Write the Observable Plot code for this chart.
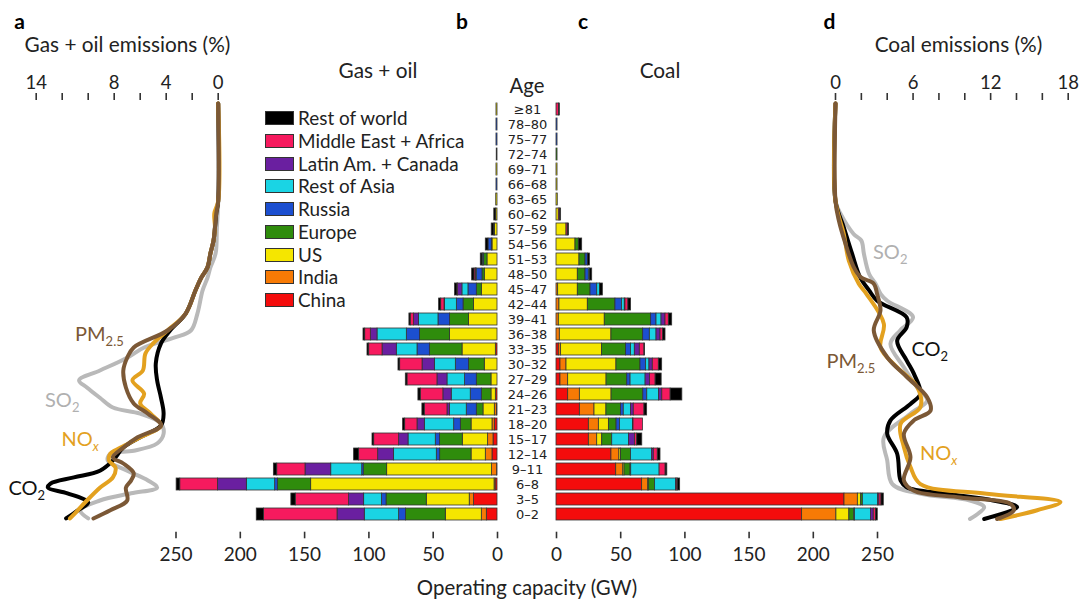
<!DOCTYPE html>
<html><head><meta charset="utf-8">
<script src="https://cdn.jsdelivr.net/npm/d3@7"></script>
<script src="https://cdn.jsdelivr.net/npm/@observablehq/plot@0.6"></script>
<style>
body{margin:0;background:#fff;font-family:Lato,sans-serif;color:#222}
#wrap{position:relative;width:1083px;height:603px;overflow:hidden;background:#fff}
#wrap svg{position:absolute;left:0;top:0}
.t{position:absolute;white-space:nowrap;line-height:1;font-size:18px}
.t sub{font-size:13px;vertical-align:-5px;line-height:0}
.sw{position:absolute;width:27px;height:12px;border:1px solid #333;box-sizing:content-box}
</style></head><body><div id="wrap"></div>
<script>
// ---------- categories ----------
const ageLabels = ["≥81","78–80","75–77","72–74","69–71","66–68","63–65","60–62","57–59","54–56","51–53","48–50","45–47","42–44","39–41","36–38","33–35","30–32","27–29","24–26","21–23","18–20","15–17","12–14","9–11","6–8","3–5","0–2"];
const regions = ["China","India","US","Europe","Russia","Rest of Asia","Latin Am. + Canada","Middle East + Africa","Rest of world"];
const regionColors = ["#f40c0c","#f77a05","#f5e600","#2f8c0c","#1c4fd0","#1ad4e4","#6a1fa0","#f61a5e","#000000"];

// ---------- gas + oil capacity (GW), rows top (≥81) to bottom (0–2) ----------
const gasChina   = [0,0,0,0,0,0,0,0,0,0,0,0,0,0,0,0,1.3,0,0,1.3,0.5,2.1,3.1,3.9,0.3,1.5,18.2,8.3];
const gasIndia   = [0,0,0,0,0,0,0,0,0,0,0,0,0,0,0,0,0,0,0,0,1.6,1.8,4.2,5.2,3.9,0.8,3.4,3.9];
const gasUS      = [0.8,0,0,0,0.8,0,1.0,1.0,2.0,3.9,7.8,9.9,12.2,18.2,22.1,36.9,25.9,9.9,4.7,3.4,8.8,16.3,19.7,11.1,81.6,142.6,33.4,28.0];
const gasEurope  = [0,0,0,0.6,0,0,0,0,0.5,0.5,2.6,1.8,3.9,8.2,14.8,23.3,25.4,12.2,11.4,7.5,5.2,8.3,17.7,24.4,18.2,25.9,31.3,30.9];
const gasRussia  = [0,0.8,0.8,0,0,0.8,0,0,0,2.6,0.8,4.4,6.5,5.2,9.0,10.3,9.6,10.3,9.1,8.6,7.8,5.2,3.3,2.6,1.2,2.1,3.6,5.4];
const gasRestAsia= [0,0,0,0,0,0,0,0,0,0,0.5,0.5,4.7,9.3,15.1,22.8,16.1,16.3,13.7,14.8,13.0,22.8,21.2,33.2,24.1,22.0,13.8,26.7];
const gasLatin   = [0,0,0,0,0,0,0,0,0,0,0,0.3,3.4,0.3,3.9,5.2,11.1,9.6,7.8,6.5,2.0,5.7,7.3,12.4,20.0,22.5,11.7,21.2];
const gasMEA     = [0,0,0,0,0,0,0,0,0,0,0,1.0,0.5,2.6,2.6,4.4,10.4,17.4,23.3,17.6,17.7,9.6,19.4,14.8,22.0,29.3,41.5,57.1];
const gasRoW     = [0,0,0,0,0,0,0,1.5,2.0,2.1,1.3,1.8,1.8,1.6,1.0,1.3,1.3,1.3,1.3,1.8,1.8,1.6,1.3,3.9,2.6,2.8,3.4,5.7];

// ---------- coal capacity (GW) ----------
const coalChina   = [0,0,0,0,0,0,0,0,0,0,0,0,0,0,0,0,1.8,3.1,3.1,9.1,18.2,25.2,25.2,42.8,46.5,66.7,224.3,191.3];
const coalIndia   = [0,0,0,0,0,0,0,0,0,0,0,0,1.3,2.3,1.8,2.6,1.8,4.7,6.0,9.1,11.4,7.8,6.5,6.2,5.5,4.7,10.4,26.7];
const coalUS      = [0,0,0,0,0.8,0.8,1.0,1.8,7.8,14.8,17.9,16.6,15.3,22.1,35.8,40.2,31.9,38.9,29.9,24.7,9.3,7.8,3.9,1.3,1.0,0.5,2.6,10.1];
const coalEurope  = [0,0,0,0.8,0,0,0,0,0,2.6,4.7,6.0,9.9,21.5,36.1,24.7,18.7,18.7,16.1,24.7,11.4,6.0,7.8,7.8,4.7,4.9,1.3,3.9];
const coalRussia  = [0,0.8,0.8,0,0,0,0,0,0,0,1.8,2.6,5.2,5.2,4.2,5.2,3.9,4.4,2.6,3.1,2.1,2.6,0,0,0.5,0,0,0.5];
const coalRestAsia= [0,0,0,0,0,0,0,0,0,0,0,0.8,2.1,2.1,3.9,5.2,2.9,2.6,11.7,9.1,5.7,10.1,13.0,16.4,22.1,16.4,11.9,12.5];
const coalLatin   = [0,0,0,0,0,0,0,0,0,0,0,0,0,0.5,3.1,3.1,3.9,2.6,3.4,2.6,2.1,0.5,4.7,1.3,0,0.5,1.0,2.1];
const coalMEA     = [2.0,0,0,0,0,0,0,1.0,1.0,0,0,0,0,2.3,2.6,2.1,3.6,4.7,4.4,6.5,8.3,7.3,1.8,3.1,4.7,0.8,1.6,1.8];
const coalRoW     = [0.6,0,0,0,0,0,0,0.8,1.0,2.6,1.6,1.8,2.3,2.1,2.6,1.8,0.5,2.6,4.7,9.1,2.1,0,3.9,2.1,1.3,1.8,1.8,1.3];

// ---------- emissions (%) by plant age: [age (yr), percent] ----------
const gasSO2 = [[82,0],[63,0],[57.8,0.1],[52.8,0.2],[50.1,0.6],[48.1,0.82],[45.6,1.2],[41.1,1.6],[37.8,2.1],[36.4,3.4],[34.5,5.7],[32.5,7.0],[30.0,9.1],[28.1,10.7],[26.7,10.1],[24.7,9.1],[22.8,8.1],[21.6,6.0],[19.7,4.4],[17.7,4.2],[15.8,4.7],[14.4,6.5],[13.8,8.3],[12.5,8.5],[10.5,7.0],[8.6,5.4],[7.2,4.7],[6.1,6.7],[4.7,9.1],[2.8,10.6],[1.2,10.0]];
const gasCO2 = [[82,0],[63,0],[60.6,0.15],[57.8,0.25],[55.3,0.36],[52.8,0.6],[50.1,0.82],[48.1,1.3],[45.6,1.75],[41.1,2.5],[37.8,3.7],[35.3,4.4],[31.4,4.8],[28.1,4.7],[24.7,4.4],[21.6,4.2],[19.3,4.4],[17.0,6.0],[15.0,7.3],[12.5,8.1],[10.5,9.1],[9.2,11.1],[8.0,12.9],[7.2,13.1],[6.1,11.6],[4.3,10.0],[2.8,10.8],[1.2,11.7]];
const gasNOx = [[82,0],[63,0],[60.6,0.3],[57.8,0.25],[55.3,0.36],[52.8,0.6],[50.1,0.82],[48.1,1.3],[45.6,1.75],[41.1,2.5],[37.8,3.9],[35.3,5.0],[33.3,5.6],[30.0,5.8],[28.1,6.6],[25.5,5.7],[23.6,6.0],[21.6,5.2],[19.3,4.4],[17.0,6.0],[15.0,7.5],[13.8,8.3],[12.5,8.4],[11.1,7.9],[9.2,8.1],[7.2,9.1],[4.7,10.1],[2.8,10.8],[1.2,11.4]];
const gasPM  = [[82,0],[63,0],[60.6,0.15],[57.8,0.25],[55.3,0.36],[52.8,0.6],[50.1,0.82],[48.1,1.3],[45.6,1.75],[41.1,2.5],[37.8,3.9],[34.5,6.5],[32.5,7.0],[30.0,7.3],[26.7,7.1],[23.6,6.5],[21.6,5.4],[19.3,4.4],[17.0,6.2],[15.0,7.3],[13.1,8.1],[11.9,7.3],[10.0,6.5],[8.6,6.7],[7.2,7.1],[4.7,7.0],[2.8,8.3],[1.2,9.6]];

const coalSO2 = [[82,0],[63,0],[60.5,0.4],[56.6,1.4],[55.3,2.0],[52.7,2.2],[48.8,2.6],[46.9,3.1],[44.9,3.5],[43.6,4.0],[40.4,6.0],[37.8,5.0],[35.2,4.25],[30.6,5.3],[26.8,6.3],[24.2,7.1],[21.6,5.8],[17.0,3.74],[12.5,4.0],[7.9,4.4],[6.0,6.6],[4.7,10.4],[3.4,11.5],[1.1,10.4]];
const coalCO2 = [[82,0],[63,0],[57.9,0.64],[52.7,1.29],[48.2,1.9],[45.6,2.6],[43.6,3.22],[40.4,5.5],[38.4,5.5],[35.8,4.77],[32.0,5.5],[29.4,6.06],[25.5,6.57],[23.5,5.8],[20.3,4.25],[17.7,4.0],[13.8,4.77],[8.6,5.03],[7.3,5.5],[6.0,8.6],[4.7,12.2],[3.4,14.05],[1.1,11.5]];
const coalNOx = [[82,0],[63,0],[56.6,0.64],[51.4,1.03],[46.9,1.8],[44.9,2.4],[39.1,3.74],[34.5,3.48],[30.6,4.77],[26.8,6.32],[22.9,6.57],[19.6,5.03],[15.1,5.29],[11.2,5.8],[7.9,6.57],[6.0,11.7],[4.4,17.4],[2.8,15.6],[1.1,12.76]];
const coalPM  = [[82,0],[63,0],[59.2,0.26],[54.7,0.77],[50.1,1.42],[48.2,1.93],[46.9,2.96],[44.9,3.22],[41.7,3.48],[37.8,2.96],[32.6,4.0],[28.7,5.54],[24.8,7.09],[22.2,7.35],[20.3,6.06],[17.7,5.29],[13.1,5.8],[8.6,5.29],[6.6,6.06],[5.3,9.67],[4.1,13.5],[2.8,13.8],[1.1,12.5]];

const pollutantColors = ["#b9b9b9","#000000","#e3a11f","#7b5836"]; // SO2, CO2, NOx, PM2.5
const gasTicks = [0,2,4,6,8,10,12,14], gasTickLabels = [14,8,4,0];
const coalTicks = [0,2,4,6,8,10,12,14,16,18], coalTickLabels = [0,6,12,18];
const capTicks = [0,50,100,150,200,250];

// ---------- build ----------
const W = 1083, H = 603;
const wrap = document.getElementById("wrap");
const gasArrs = [gasChina,gasIndia,gasUS,gasEurope,gasRussia,gasRestAsia,gasLatin,gasMEA,gasRoW];
const coalArrs = [coalChina,coalIndia,coalUS,coalEurope,coalRussia,coalRestAsia,coalLatin,coalMEA,coalRoW];
function rows(arrs){const out=[];ageLabels.forEach((a,i)=>regions.forEach((r,j)=>{const v=arrs[j][i];if(v>0)out.push({age:a,region:r,value:v});}));return out;}
const style = {background:"transparent",fontFamily:"Lato, sans-serif",fontSize:"17px",color:"#222",overflow:"visible"};
const colorOpt = {domain:regions,range:regionColors};
const bandMargins = {marginTop:93.75, marginBottom:74.7};
function lineMarks(list){return list.map((s,i)=>Plot.line(s,{x:d=>d[1],y:d=>d[0],stroke:pollutantColors[i],strokeWidth:4,curve:"catmull-rom",strokeLinecap:"round",strokeLinejoin:"round"}));}

const pA = Plot.plot({width:W,height:H,style,marginLeft:35.7,marginRight:W-217.7,marginTop:103,marginBottom:84,
  x:{domain:[0,14],reverse:true,label:null},
  y:{domain:[1,82],axis:null},
  marks:[
    Plot.axisX({anchor:"top",ticks:gasTicks,tickSize:7,tickPadding:4,dy:-4,strokeWidth:1.6,stroke:"#333",fontSize:18.5,label:null,
      tickFormat:d=>gasTickLabels.includes(d)?String(d):""}),
    ...lineMarks([gasSO2,gasCO2,gasNOx,gasPM])
  ]});

const pB = Plot.plot({width:W,height:H,style,marginLeft:175.5,marginRight:W-497,...bandMargins,
  x:{domain:[0,250],reverse:true,label:null},
  y:{type:"band",domain:ageLabels,padding:0.2,label:null},
  color:colorOpt,
  marks:[
    Plot.barX(rows(gasArrs),Plot.stackX({x:"value",y:"age",fill:"region",stroke:"#333",strokeWidth:0.8})),
    Plot.axisX({anchor:"bottom",ticks:capTicks,tickSize:6.6,tickPadding:9,dy:3.4,strokeWidth:1.6,stroke:"#333",fontSize:19,label:null}),
    Plot.axisY({anchor:"right",tickSize:0,tickPadding:30,textAnchor:"middle",fontSize:13,fontFamily:"'DejaVu Sans', sans-serif",label:null})
  ]});

const pC = Plot.plot({width:W,height:H,style,marginLeft:556,marginRight:W-877,...bandMargins,
  x:{domain:[0,250],label:null},
  y:{type:"band",domain:ageLabels,padding:0.2,axis:null},
  color:colorOpt,
  marks:[
    Plot.barX(rows(coalArrs),Plot.stackX({x:"value",y:"age",fill:"region",stroke:"#333",strokeWidth:0.8})),
    Plot.axisX({anchor:"bottom",ticks:capTicks,tickSize:6.6,tickPadding:9,dy:3.4,strokeWidth:1.6,stroke:"#333",fontSize:19,label:null})
  ]});

const pD = Plot.plot({width:W,height:H,style,marginLeft:835,marginRight:W-1067.7,marginTop:103,marginBottom:84,
  x:{domain:[0,18],label:null},
  y:{domain:[1,82],axis:null},
  marks:[
    Plot.axisX({anchor:"top",ticks:coalTicks,tickSize:7,tickPadding:4,dy:-4,strokeWidth:1.6,stroke:"#333",fontSize:18.5,label:null,
      tickFormat:d=>coalTickLabels.includes(d)?String(d):""}),
    ...lineMarks([coalSO2,coalCO2,coalNOx,coalPM])
  ]});

wrap.append(pA,pB,pC,pD);

// ---------- text ----------
function txt(html,x,y,o={}){
  const e=document.createElement("div");e.className="t";e.innerHTML=html;
  e.style.left=x+"px";e.style.top=y+"px";
  e.style.transform=o.start?"translate(0,-50%)":"translate(-50%,-50%)";
  if(o.size)e.style.fontSize=o.size+"px";
  if(o.color)e.style.color=o.color;
  if(o.bold)e.style.fontWeight="700";
  wrap.appendChild(e);return e;
}
txt("a",19.5,19.5,{bold:true,size:21,color:"#000"});
txt("b",462,19.5,{bold:true,size:21,color:"#000"});
txt("c",583,19.5,{bold:true,size:21,color:"#000"});
txt("d",829.5,19.5,{bold:true,size:21,color:"#000"});
txt("Gas + oil emissions (%)",127.5,43.5,{size:20.8});
txt("Coal emissions (%)",958.5,43.5,{size:20.8});
txt("Gas + oil",378,70,{size:20.8});
txt("Coal",660,70,{size:20.8});
txt("Age",527,84.5,{size:20.3});
txt("Operating capacity (GW)",527,587,{size:20.4});

// line labels
txt("PM<sub>2.5</sub>",75,333,{start:true,size:20,color:pollutantColors[3]});
txt("SO<sub>2</sub>",45,399,{start:true,size:20,color:"#b0b0b0"});
txt("NO<sub><i>x</i></sub>",61.5,438,{start:true,size:20,color:pollutantColors[2]});
txt("CO<sub>2</sub>",8.5,487,{start:true,size:20,color:"#111"});
txt("SO<sub>2</sub>",873,251,{start:true,size:20,color:"#b0b0b0"});
txt("CO<sub>2</sub>",911.5,348,{start:true,size:20,color:"#111"});
txt("PM<sub>2.5</sub>",826.5,360,{start:true,size:20,color:pollutantColors[3]});
txt("NO<sub><i>x</i></sub>",920,451.5,{start:true,size:20,color:pollutantColors[2]});

// legend (top to bottom: reverse of stacking order)
const legendOrder = regions.map((r,i)=>i).reverse();
legendOrder.forEach((ri,k)=>{
  const y=118+k*22.75;
  const s=document.createElement("div");s.className="sw";
  s.style.left="265px";s.style.top=(y-7)+"px";s.style.background=regionColors[ri];
  wrap.appendChild(s);
  txt(regions[ri],298,y,{start:true,size:18.9});
});
</script></body></html>
